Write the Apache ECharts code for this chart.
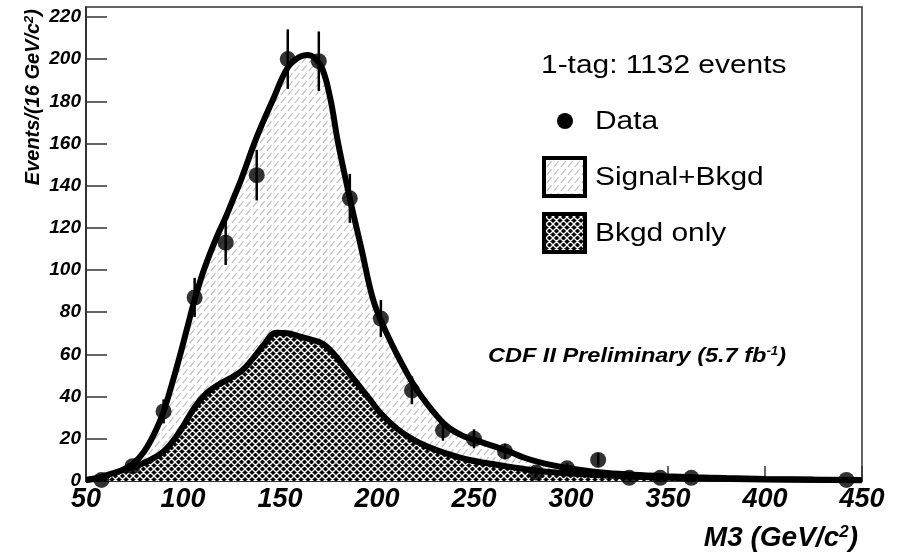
<!DOCTYPE html>
<html>
<head>
<meta charset="utf-8">
<script src="https://cdn.jsdelivr.net/npm/echarts@6/dist/echarts.min.js"></script>
<style>
html, body { margin: 0; padding: 0; background: #fff; }
#main { width: 899px; height: 557px; }
</style>
</head>
<body>
<div id="main"></div>
<script>
// M3 bins (GeV/c^2), data counts and their error bars
var massBins = [58, 74, 90, 106, 122, 138, 154, 170, 186, 202, 218, 234, 250, 266, 282, 298, 314, 330, 346, 362, 442];
var dataCounts = [0.5, 7, 33, 87, 113, 145, 200, 199, 134, 77, 43, 24, 20, 14, 4, 6, 10, 1.5, 1.5, 1.5, 0.5];
var dataErrors = [0.7, 2.6, 5.7, 9.3, 10.6, 12, 14.1, 14.1, 11.6, 8.8, 6.6, 4.9, 4.5, 3.7, 2, 2.4, 3.2, 1.2, 1.2, 1.2, 0.7];

// signal+background template
var sigX = [50, 58, 66, 74, 80, 86, 90, 94, 98, 102, 106, 110, 114, 118, 122, 126, 130, 138, 146, 154, 160, 164, 168, 172, 176, 180, 186, 192, 198, 204, 212, 220, 228, 236, 244, 252, 260, 268, 276, 284, 292, 300, 316, 332, 348, 364, 380, 400, 425, 450];
var sigY = [0.5, 1.5, 4, 8, 14, 24, 33, 45, 58, 72, 86, 98, 108, 117, 125, 134, 143, 163, 180, 196, 201, 202, 200.5, 195, 181, 160, 134, 110, 86, 72, 57, 44, 34, 26, 21.5, 19, 16.5, 14, 11, 8.8, 7.2, 5.9, 4, 3, 2.3, 1.8, 1.4, 1, 0.7, 0.5];

// background only template
var bkgX = [50, 58, 66, 74, 82, 90, 98, 106, 112, 118, 124, 130, 136, 142, 148, 154, 160, 166, 172, 178, 184, 190, 196, 202, 210, 218, 226, 236, 246, 256, 268, 285, 300, 320, 350, 400, 450];
var bkgY = [0.5, 2, 4.3, 6.5, 9.5, 14, 23, 35, 41.5, 45.5, 48.5, 52, 58, 65, 70.3, 70, 68.5, 67, 65, 60, 53, 46, 39, 32, 25, 20, 16.3, 13, 10.3, 8.5, 6.8, 4.6, 3.5, 2.5, 1.5, 0.7, 0.3];

var xTicks = [50, 100, 150, 200, 250, 300, 350, 400, 450];
var yTicks = [0, 20, 40, 60, 80, 100, 120, 140, 160, 180, 200, 220];

var FONT = '"Liberation Sans", Arial, Helvetica, sans-serif';

/* fill patterns */
function hatchPattern() {
    var c = document.createElement('canvas');
    c.width = 7; c.height = 8;
    var ctx = c.getContext('2d');
    ctx.fillStyle = '#fff';
    ctx.fillRect(0, 0, 7, 8);
    ctx.strokeStyle = '#bdbdbd';
    ctx.lineWidth = 1.1;
    ctx.beginPath();
    ctx.moveTo(0.8, 7.2);
    ctx.lineTo(5.6, 1.2);
    ctx.stroke();
    return c;
}
function crossPattern() {
    var s = 7;
    var c = document.createElement('canvas');
    c.width = s; c.height = s;
    var ctx = c.getContext('2d');
    ctx.fillStyle = '#000';
    ctx.fillRect(0, 0, s, s);
    ctx.strokeStyle = '#fff';
    ctx.lineWidth = 1.35;
    ctx.beginPath();
    for (var d = -s; d <= s; d += s) {
        ctx.moveTo(d, 0); ctx.lineTo(d + s, s);
        ctx.moveTo(d + s, 0); ctx.lineTo(d, s);
    }
    ctx.stroke();
    return c;
}
var hatchFill = { image: hatchPattern(), repeat: 'repeat' };
var crossFill = { image: crossPattern(), repeat: 'repeat' };

function pairs(xs, ys) {
    return xs.map(function (x, i) { return [x, ys[i]]; });
}
var pointData = massBins.map(function (x, i) { return [x, dataCounts[i], dataErrors[i]]; });

var myChart = echarts.init(document.getElementById('main'));
var option = {
    animation: false,
    backgroundColor: '#fff',
    grid: {
        left: 86, right: 37, top: 7, bottom: 76,
        show: true, borderColor: '#333', borderWidth: 1.5
    },
    xAxis: {
        type: 'value',
        min: 50, max: 450, interval: 50,
        axisLine: { lineStyle: { color: '#333', width: 2 } },
        axisTick: { inside: true, length: 15, lineStyle: { color: '#333', width: 1.5 }, customValues: xTicks },
        axisLabel: {
            customValues: xTicks,
            margin: 5,
            color: '#000', fontFamily: FONT, fontSize: 27,
            fontStyle: 'italic', fontWeight: 'bold'
        },
        splitLine: { show: false }
    },
    yAxis: {
        type: 'value',
        min: 0, max: 224.7,
        axisLine: { show: true, lineStyle: { color: '#333', width: 2 } },
        axisTick: { show: true, inside: true, length: 21, lineStyle: { color: '#333', width: 1.5 }, customValues: yTicks },
        axisLabel: {
            customValues: yTicks,
            margin: 5,
            color: '#000', fontFamily: FONT, fontSize: 19,
            fontStyle: 'italic', fontWeight: 'bold'
        },
        splitLine: { show: false }
    },
    series: [{
        name: 'Signal+Bkgd',
        type: 'line',
        data: pairs(sigX, sigY),
        smooth: 0.4,
        symbol: 'none',
        z: 2,
        lineStyle: { color: '#000', width: 6 },
        areaStyle: { color: hatchFill, opacity: 1 }
    }, {
        name: 'Bkgd only',
        type: 'line',
        data: pairs(bkgX, bkgY),
        smooth: 0.4,
        symbol: 'none',
        z: 3,
        lineStyle: { color: '#000', width: 6 },
        areaStyle: { color: crossFill, opacity: 1 }
    }, {
        name: 'errors',
        type: 'custom',
        z: 4,
        clip: true,
        data: pointData,
        renderItem: function (params, api) {
            var x = api.value(0), y = api.value(1), e = api.value(2);
            var top = api.coord([x, y + e]);
            var bot = api.coord([x, y - e]);
            return {
                type: 'line',
                shape: { x1: top[0], y1: top[1], x2: bot[0], y2: bot[1] },
                style: { stroke: '#000', lineWidth: 2.5 }
            };
        }
    }, {
        name: 'Data',
        type: 'scatter',
        z: 5,
        data: pointData,
        symbol: 'circle',
        symbolSize: 16,
        itemStyle: { color: '#000' }
    }],
    graphic: [
        // y axis title
        {
            type: 'text', x: 33, y: 9, rotation: Math.PI / 2,
            style: {
                text: '{n|Events/(16 GeV/c}{s|2}{n|)}',
                align: 'right', textAlign: 'right', verticalAlign: 'middle', textVerticalAlign: 'middle',
                rich: {
                    n: { fontFamily: FONT, fontSize: 20, fontStyle: 'italic', fontWeight: 'bold', fill: '#000' },
                    s: { fontFamily: FONT, fontSize: 13, fontStyle: 'italic', fontWeight: 'bold', fill: '#000', verticalAlign: 'top' }
                }
            }
        },
        // x axis title
        {
            type: 'text', x: 858, y: 538,
            style: {
                text: '{n|M3 (GeV/c}{s|2}{n|)}',
                align: 'right', textAlign: 'right', verticalAlign: 'middle', textVerticalAlign: 'middle',
                rich: {
                    n: { fontFamily: FONT, fontSize: 28, fontStyle: 'italic', fontWeight: 'bold', fill: '#000' },
                    s: { fontFamily: FONT, fontSize: 17, fontStyle: 'italic', fontWeight: 'bold', fill: '#000', verticalAlign: 'top' }
                }
            }
        },
        // legend
        {
            type: 'text', x: 541, y: 66, scaleX: 1.15,
            style: { text: '1-tag: 1132 events', font: '26px ' + FONT, fill: '#000', verticalAlign: 'middle', textVerticalAlign: 'middle' }
        },
        {
            type: 'circle', shape: { cx: 565, cy: 121, r: 8 }, style: { fill: '#000' }
        },
        {
            type: 'text', x: 595, y: 122, scaleX: 1.15,
            style: { text: 'Data', font: '26px ' + FONT, fill: '#000', verticalAlign: 'middle', textVerticalAlign: 'middle' }
        },
        {
            type: 'rect', shape: { x: 544, y: 158, width: 41, height: 38 },
            style: { fill: hatchFill, stroke: '#000', lineWidth: 4 }
        },
        {
            type: 'text', x: 595, y: 178, scaleX: 1.15,
            style: { text: 'Signal+Bkgd', font: '26px ' + FONT, fill: '#000', verticalAlign: 'middle', textVerticalAlign: 'middle' }
        },
        {
            type: 'rect', shape: { x: 544, y: 214, width: 41, height: 38 },
            style: { fill: crossFill, stroke: '#000', lineWidth: 4 }
        },
        {
            type: 'text', x: 595, y: 234, scaleX: 1.15,
            style: { text: 'Bkgd only', font: '26px ' + FONT, fill: '#000', verticalAlign: 'middle', textVerticalAlign: 'middle' }
        },
        // CDF label
        {
            type: 'text', x: 488, y: 356, scaleX: 1.12,
            style: {
                text: '{n|CDF II Preliminary (5.7 fb}{s|-1}{n|)}',
                verticalAlign: 'middle', textVerticalAlign: 'middle',
                rich: {
                    n: { fontFamily: FONT, fontSize: 21, fontStyle: 'italic', fontWeight: 'bold', fill: '#000' },
                    s: { fontFamily: FONT, fontSize: 12, fontStyle: 'italic', fontWeight: 'bold', fill: '#000', verticalAlign: 'top' }
                }
            }
        }
    ]
};
myChart.setOption(option);
</script>
</body>
</html>
